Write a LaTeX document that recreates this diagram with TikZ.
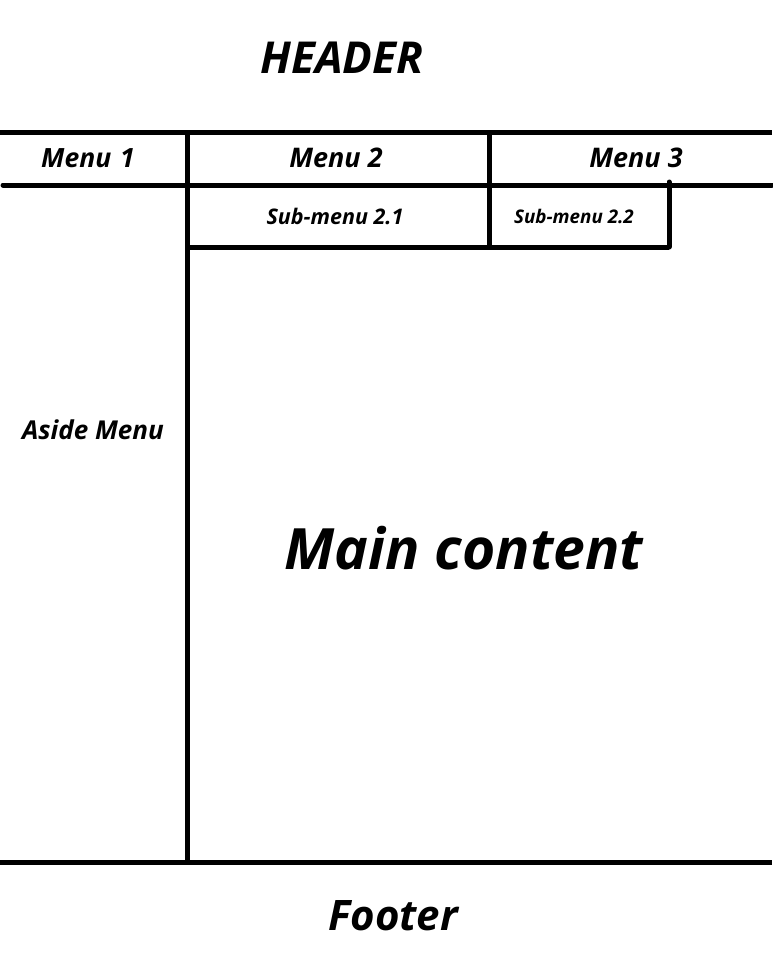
\documentclass[tikz,border=0pt]{standalone}
\usepackage{fontspec}
\setmainfont{Open Sans}[BoldItalicFont={* Bold Italic}]
\newcommand{\fz}[1]{\fontsize{#1}{#1}\selectfont\bfseries\itshape}
\begin{document}
\begin{tikzpicture}[x=1pt,y=-1pt,
  rule/.style={line width=5pt},
  lbl/.style={inner sep=0pt}]
\useasboundingbox (0,0) rectangle (772,964);
\coordinate (tl) at (0,132); \coordinate (tr) at (772,132);
\coordinate (ml) at (3,185); \coordinate (mr) at (772,185);
\coordinate (v1t) at (187,132); \coordinate (v1b) at (187,862);
\coordinate (v2t) at (489,132); \coordinate (v2b) at (489,247);
\coordinate (sl) at (187,247); \coordinate (sr) at (669,247);
\coordinate (v3t) at (669,182);
\coordinate (bl) at (0,862); \coordinate (br) at (772,862);
\draw[rule] (tl) -- (tr);
\draw[rule,line cap=round] (ml) -- (mr);
\draw[rule] (v1t) -- (v1b);
\draw[rule] (v2t) -- (v2b);
\draw[rule] (sl) -- (sr);
\draw[rule,line cap=round] (v3t) -- (sr);
\draw[rule] (bl) -- (br);
\node[lbl,font=\fz{44}] (header) at (342,58) {HEADER};
\node[lbl,font=\fz{26.5}] (m1) at (88,158) {Menu\,\,1};
\node[lbl,font=\fz{27}] (m2) at (336,158) {Menu 2};
\node[lbl,font=\fz{27}] (m3) at (636,158) {Menu 3};
\node[lbl,font=\fz{21.5}] (s1) at (335,216) {Sub-menu 2.1};
\node[lbl,font=\fz{18.8}] (s2) at (574,216) {Sub-menu 2.2};
\node[lbl,font=\fz{26}] (aside) at (93,430) {Aside Menu};
\node[lbl,font=\fz{57}] (main) at (464,548) {Main content};
\node[lbl,font=\fz{42}] (footer) at (393,916) {Footer};
\end{tikzpicture}
\end{document}
